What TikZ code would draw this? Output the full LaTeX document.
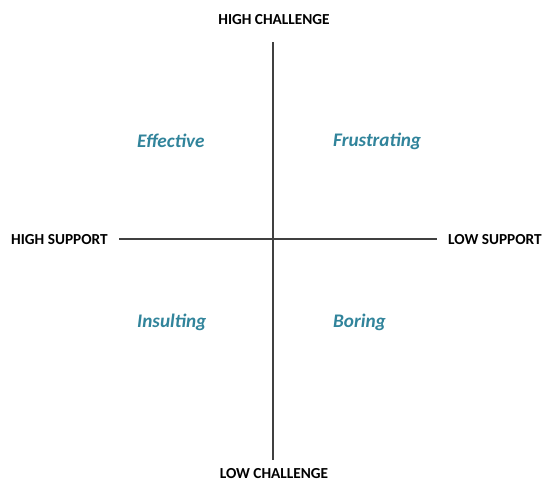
\documentclass[tikz,border=0pt]{standalone}
\usepackage{fontspec}
\setmainfont{Carlito}
\definecolor{axisgray}{HTML}{404040}
\definecolor{quadteal}{HTML}{31849B}
\begin{document}
\begin{tikzpicture}[x=1pt,y=-1pt,
  axis/.style={draw=axisgray,line width=1.1pt},
  axislabel/.style={font=\bfseries\fontsize{15.3}{17}\selectfont,text=black,inner sep=0pt},
  quadlabel/.style={font=\bfseries\itshape\fontsize{19.2}{21}\selectfont,text=quadteal,inner sep=0pt,anchor=west}]
\useasboundingbox (0,0) rectangle (543,482);
% axes
\coordinate (top) at (273,42);
\coordinate (bottom) at (273,460);
\coordinate (left) at (119,239);
\coordinate (right) at (437,239);
\draw[axis] (top) -- (bottom);
\draw[axis] (left) -- (right);
% axis labels
\node[axislabel] (hc) at (274,20) {HIGH CHALLENGE};
\node[axislabel] (lc) at (274,473.5) {LOW CHALLENGE};
\node[axislabel,anchor=west] (hs) at (11,240) {HIGH SUPPORT};
\node[axislabel,anchor=west] (ls) at (448,240) {LOW SUPPORT};
% quadrant labels
\node[quadlabel] (eff) at (137,141) {Effective};
\node[quadlabel] (fru) at (333,141) {Frustrating};
\node[quadlabel] (ins) at (137,322) {Insulting};
\node[quadlabel] (bor) at (333,322) {Boring};
\end{tikzpicture}
\end{document}
